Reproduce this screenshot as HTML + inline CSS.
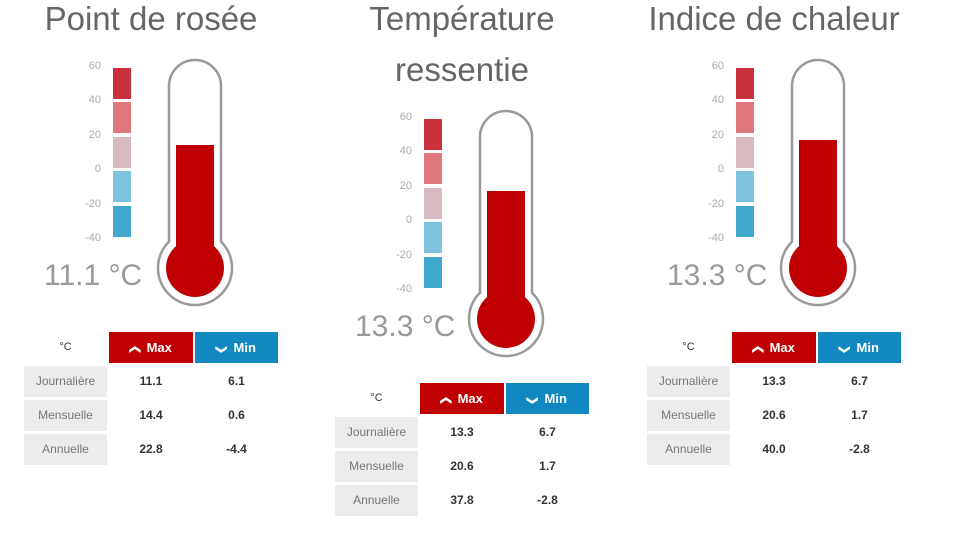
<!DOCTYPE html><html><head><meta charset="utf-8"><style>
body{margin:0;width:953px;height:536px;background:#fff;position:relative;overflow:hidden;font-family:"Liberation Sans",sans-serif}
.a{position:absolute}
.t{color:#666;font-size:33px;white-space:nowrap;text-align:center;width:320px;line-height:33px}
.s{color:#aaa;font-size:11px;text-align:right;width:30px}
.v{color:#999;font-size:30px;white-space:nowrap}
.c{height:31px;line-height:31px;text-align:center;font-size:12px}
.l{background:#ececec;color:#777}
.n{color:#333;font-weight:bold}
.h{color:#fff;font-weight:bold;font-size:13px}
</style></head><body>
<div id="r"></div>
<script>
var P=[
 {dx:0,dy:0,t:["Point de rosée"],val:"11.1 °C",fill:145,rows:[["11.1","6.1"],["14.4","0.6"],["22.8","-4.4"]]},
 {dx:311,dy:51,t:["Température","ressentie"],val:"13.3 °C",fill:140,rows:[["13.3","6.7"],["20.6","1.7"],["37.8","-2.8"]]},
 {dx:623,dy:0,t:["Indice de chaleur"],val:"13.3 °C",fill:140,rows:[["13.3","6.7"],["20.6","1.7"],["40.0","-2.8"]]}
];
var h="";
P.forEach(function(p){
 var X=p.dx,Y=p.dy;
 p.t.forEach(function(s,i){h+='<div class="a t" style="left:'+(X-9)+'px;top:'+(2+i*51)+'px">'+s+'</div>';});
 var labs=["60","40","20","0","-20","-40"];
 labs.forEach(function(s,i){h+='<div class="a s" style="left:'+(X+71)+'px;top:'+(Y+60+i*34.4)+'px">'+s+'</div>';});
 var cols=["#c9323c","#df777c","#d8b9c0","#7ec3de","#41a9cc"];
 cols.forEach(function(c,i){h+='<div class="a" style="left:'+(X+113)+'px;top:'+(Y+68+i*34.4)+'px;width:18px;height:31px;background:'+c+'"></div>';});
 var ft=p.fill-50;
 h+='<svg class="a" style="left:'+(X+150)+'px;top:'+(Y+50)+'px" width="100" height="270">'+
 '<path d="M19 191.7 V36 A26 26 0 0 1 71 36 V191.7 A37 37 0 1 1 19 191.7 Z" fill="#fff" stroke="#999" stroke-width="2.5"/>'+
 '<rect x="26" y="'+ft+'" width="38" height="'+(220-ft)+'" fill="#c00000"/>'+
 '<circle cx="45" cy="218" r="29" fill="#c00000"/></svg>';
 h+='<div class="a v" style="left:'+(X+44)+'px;top:'+(Y+259)+'px">'+p.val+'</div>';
 var ty=Y+332;
 h+='<div class="a c" style="left:'+(X+24)+'px;top:'+ty+'px;width:83px;color:#333;font-size:11px">°C</div>';
 h+='<div class="a c h" style="left:'+(X+109)+'px;top:'+ty+'px;width:84px;background:#c00000"><span style="display:inline-block;transform:rotate(90deg);font-size:11px">&#10094;</span>&nbsp; Max</div>';
 h+='<div class="a c h" style="left:'+(X+195)+'px;top:'+ty+'px;width:83px;background:#1288c0"><span style="display:inline-block;transform:rotate(-90deg);font-size:11px">&#10094;</span>&nbsp; Min</div>';
 var names=["Journalière","Mensuelle","Annuelle"];
 p.rows.forEach(function(r,i){var y=ty+34+i*34;
  h+='<div class="a c l" style="left:'+(X+24)+'px;top:'+y+'px;width:83px">'+names[i]+'</div>';
  h+='<div class="a c n" style="left:'+(X+109)+'px;top:'+y+'px;width:84px">'+r[0]+'</div>';
  h+='<div class="a c n" style="left:'+(X+195)+'px;top:'+y+'px;width:83px">'+r[1]+'</div>';});
});
document.getElementById("r").innerHTML=h;
</script></body></html>
